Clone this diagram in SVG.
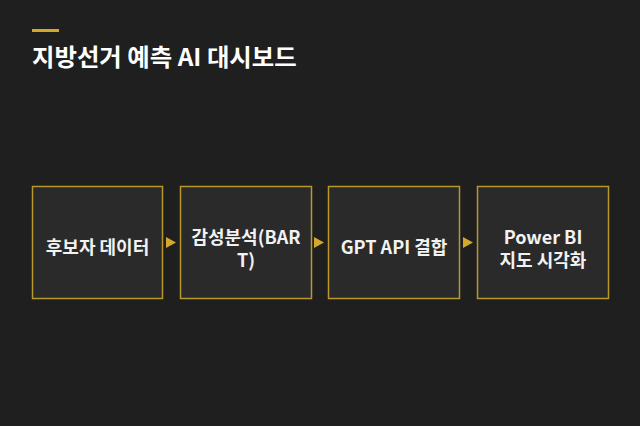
<svg xmlns="http://www.w3.org/2000/svg" width="640" height="426" viewBox="0 0 640 426">
<style>
.box{fill:#2a2a2a;stroke:#b8982a;stroke-width:1.5}
.lbl{font-family:"Noto Sans CJK KR","Noto Sans",sans-serif;font-weight:700;font-size:18px;fill:#f2f2f2;text-anchor:middle}
.title{font-family:"Noto Sans CJK KR","Noto Sans",sans-serif;font-weight:700;font-size:24.4px;fill:#ffffff}
.arr{fill:#d4a82a}
</style>
<rect width="640" height="426" fill="#1f1f1f"/>
<rect x="32" y="29" width="27" height="3" fill="#d4a82a"/>
<text class="title" x="32" y="66">지방선거 예측 AI 대시보드</text>
<g id="connectors">
<polygon class="arr" points="166,237 176,242.5 166,248"/>
<polygon class="arr" points="314,237 324,242.5 314,248"/>
<polygon class="arr" points="463,237 473,242.5 463,248"/>
</g>
<g id="n1"><rect class="box" x="32.5" y="186.5" width="130" height="112"/><text class="lbl" x="97.5" y="253.5">후보자 데이터</text></g>
<g id="n2"><rect class="box" x="180.5" y="186.5" width="131" height="112"/><text class="lbl" x="246" y="243.5">감성분석(BAR</text><text class="lbl" x="246" y="266.5">T)</text></g>
<g id="n3"><rect class="box" x="328.5" y="186.5" width="131" height="112"/><text class="lbl" x="394" y="253.5">GPT API 결합</text></g>
<g id="n4"><rect class="box" x="477.5" y="186.5" width="131" height="112"/><text class="lbl" x="543" y="243.5">Power BI</text><text class="lbl" x="543" y="266.5">지도 시각화</text></g>
</svg>
